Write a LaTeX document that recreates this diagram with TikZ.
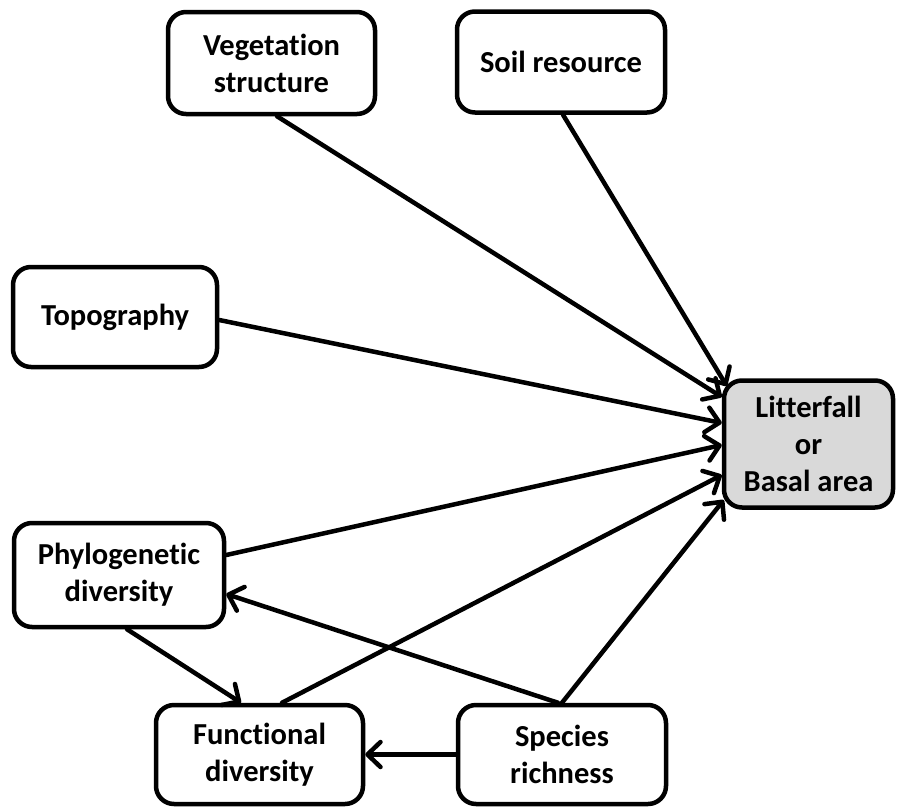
\documentclass[tikz,border=0pt]{standalone}
\usepackage{fontspec}
\setmainfont{Carlito}[Ligatures=NoCommon]
\usetikzlibrary{arrows.meta}
\definecolor{boxgray}{RGB}{217,217,217}
\begin{document}
\begin{tikzpicture}[x=1pt,y=-1pt,
  box/.style={draw=black, line width=4.5pt, rounded corners=18pt, fill=white,
    align=center, inner sep=0pt, text=black,
    font=\bfseries\fontsize{30.5}{37}\selectfont},
  conn/.style={line width=4.5pt, line cap=round, -{Straight Barb[length=13pt,width=25pt,line cap=round,line join=round]}}]
\useasboundingbox (0,0) rectangle (897,809);
\node[box, minimum width=207pt, minimum height=102pt] (veg) at (271.5,63) {Vegetation\\structure};
\node[box, minimum width=208pt, minimum height=101pt] (soil) at (561,62) {Soil resource};
\node[box, minimum width=204pt, minimum height=100pt] (topo) at (115,317) {Topography};
\node[box, minimum width=169pt, minimum height=127pt, fill=boxgray] (litter) at (808.5,444) {Litterfall\\or\\Basal area};
\node[box, minimum width=210pt, minimum height=104pt] (phylo) at (119,575) {Phylogenetic\\diversity};
\node[box, minimum width=207pt, minimum height=99pt] (func) at (259.5,754.5) {Functional\\diversity};
\node[box, minimum width=208pt, minimum height=99pt] (spec) at (562,754.5) {Species\\richness};

\draw[conn] ([xshift=2pt]soil.south) -- ([xshift=5pt,yshift=58pt]litter.west);
\draw[conn] ([xshift=5.5pt]veg.south) -- ([yshift=47pt]litter.west);
\draw[conn] ([yshift=-3pt]topo.east) -- ([yshift=21pt]litter.west);
\draw[conn] ([yshift=20pt]phylo.east) -- ([yshift=-1pt]litter.west);
\draw[conn] ([xshift=22.5pt]func.north) -- ([yshift=-31pt]litter.west);
\draw[conn] (spec.north) -- ([xshift=2pt,yshift=-56pt]litter.west);
\draw[conn] ([xshift=-4pt]spec.north) -- ([yshift=-19pt]phylo.east);
\draw[conn] ([xshift=8pt]phylo.south) -- ([xshift=-18.5pt]func.north);
\draw[conn] (spec.west) -- (func.east);
\end{tikzpicture}
\end{document}
